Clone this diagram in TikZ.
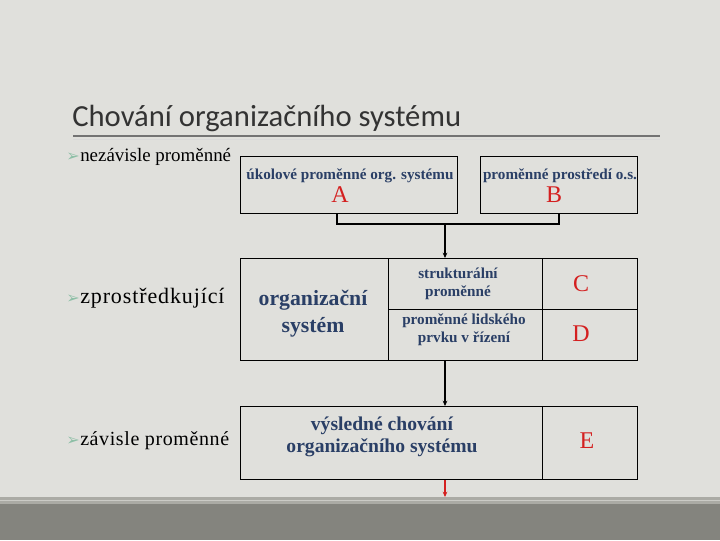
\documentclass[tikz,border=0pt]{standalone}
\usepackage{fontspec}
\setmainfont{Liberation Serif}
\newfontfamily\titlefont{Carlito}
\newfontfamily\symfont{DejaVu Sans}
\usetikzlibrary{arrows.meta}
\definecolor{bgc}{HTML}{E0E0DC}
\definecolor{banddark}{HTML}{84847E}
\definecolor{bandlight}{HTML}{ABABA5}
\definecolor{titlec}{HTML}{333333}
\definecolor{navy}{HTML}{2A3F66}
\definecolor{redc}{HTML}{D42020}
\definecolor{bulletc}{HTML}{8DBFA6}
\tikzset{
  cell/.style={draw=black, line width=0.9pt, inner sep=0pt, anchor=north west},
  boxtext/.style={text=navy, font=\bfseries\fontsize{11.4}{12}\selectfont, align=center, inner sep=0pt},
  bigtext/.style={text=navy, font=\bfseries\fontsize{16.3}{20}\selectfont, align=center, inner sep=0pt},
  letter/.style={text=redc, font=\fontsize{18}{20}\selectfont, inner sep=0pt},
  bullet/.style={anchor=west, inner sep=0pt, font=\fontsize{14.2}{16}\selectfont, text=black},
  conn/.style={line width=1.5pt, black},
  arr/.style={conn, -{Stealth[length=4pt,width=3.5pt]}}
}
\newcommand{\bul}{\makebox[10.5pt][l]{\symfont\color{bulletc}\fontsize{12}{12}\selectfont ➢}}
\begin{document}
\begin{tikzpicture}[x=0.75pt, y=-0.75pt]
\fill[bgc] (0,0) rectangle (720,540);
\useasboundingbox (0,0) rectangle (720,540);
\fill[bandlight] (0,497) rectangle (720,504);
\draw[color=bgc!60!bandlight, line width=0.5pt] (0,500.5) -- (720,500.5);
\fill[banddark] (0,504) rectangle (720,540);

% title
\node[anchor=base west, inner sep=0pt, text=titlec, font=\titlefont\fontsize{23}{26}\selectfont] (title) at (72,126) {Chování organizačního systému};
\draw[color=black!55, line width=0.8pt] (73,136) -- (660,136);
\draw[color=black!15, line width=0.6pt] (73,139) -- (660,139);

% bullets
\node[bullet] (b1) at (66,157) {\bul nezávisle proměnné};
\node[bullet] (b2) at (66,298) {\bul{\fontsize{16.5}{18}\selectfont\addfontfeature{LetterSpace=4}zprostředkující}};
\node[bullet] (b3) at (66,441) {\bul{\fontsize{15}{16}\selectfont\addfontfeature{LetterSpace=3}závisle proměnné}};

% top boxes
\node[cell, minimum width=217*0.75pt, minimum height=57*0.75pt] (A) at (240,156) {};
\node[cell, minimum width=157*0.75pt, minimum height=57*0.75pt] (B) at (480,156) {};
\node[boxtext] (At) at (350,176) {úkolové proměnné org. systému};
\node[letter] (Al) at (340,195) {A};
\node[boxtext] (Bt) at (560,176) {proměnné prostředí o.s.};
\node[letter] (Bl) at (554,195) {B};

% middle box
\node[cell, minimum width=148*0.75pt, minimum height=102*0.75pt] (org) at (240,258) {};
\node[cell, minimum width=154*0.75pt, minimum height=51*0.75pt] (str) at (388,258) {};
\node[cell, minimum width=154*0.75pt, minimum height=51*0.75pt] (hum) at (388,309) {};
\node[cell, minimum width=95*0.75pt, minimum height=51*0.75pt] (C) at (542,258) {};
\node[cell, minimum width=95*0.75pt, minimum height=51*0.75pt] (D) at (542,309) {};
\node[bigtext] (orgt) at (313,314) {organizační\\systém};
\node[boxtext, font=\bfseries\fontsize{11.4}{13.5}\selectfont] (strt) at (458,284) {strukturální\\proměnné};
\node[boxtext, font=\bfseries\fontsize{11.4}{13.5}\selectfont] (humt) at (464,330) {proměnné lidského\\prvku v řízení};
\node[letter] (Cl) at (581,284) {C};
\node[letter] (Dl) at (581,334) {D};

% bottom box
\node[cell, minimum width=302*0.75pt, minimum height=73*0.75pt] (res) at (240,406) {};
\node[cell, minimum width=95*0.75pt, minimum height=73*0.75pt] (E) at (542,406) {};
\node[bigtext, font=\bfseries\fontsize{14.7}{16}\selectfont] (rest) at (382,437) {výsledné chování\\organizačního systému};
\node[letter] (El) at (587,441) {E};

% connectors
\coordinate (aj) at (337,224);
\coordinate (mj) at (445,224);
\coordinate (endc) at (445,497);
\draw[conn] (A.south -| aj) -- (aj) -- (B.south |- aj) -- (B.south);
\draw[arr] (mj) -- (str.north -| mj);
\draw[arr] (org.south -| mj) -- (res.north -| mj);
\draw[arr, redc] (res.south -| mj) -- (endc);
\end{tikzpicture}
\end{document}
